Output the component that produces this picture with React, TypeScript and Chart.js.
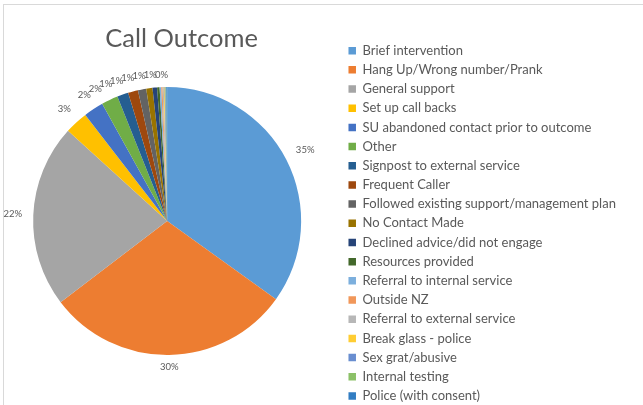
import React, { useEffect, useRef } from 'react';
import { Chart, registerables } from 'chart.js';

Chart.register(...registerables);

const TITLE = 'Call Outcome';

const categories = [
  'Brief intervention',
  'Hang Up/Wrong number/Prank',
  'General support',
  'Set up call backs',
  'SU abandoned contact prior to outcome',
  'Other',
  'Signpost to external service',
  'Frequent Caller',
  'Followed existing support/management plan',
  'No Contact Made',
  'Declined advice/did not engage',
  'Resources provided',
  'Referral to internal service',
  'Outside NZ',
  'Referral to external service',
  'Break glass - police',
  'Sex grat/abusive',
  'Internal testing',
  'Police (with consent)',
];

const values = [34.9, 29.7, 22.1, 2.8, 2.4, 2.0, 1.35, 1.2, 1.0, 0.75, 0.55, 0.3, 0.2, 0.15, 0.15, 0.1, 0.1, 0.1, 0.1];

const colors = [
  '#5B9BD5', '#ED7D31', '#A5A5A5', '#FFC000', '#4472C4', '#70AD47',
  '#255E91', '#9E480E', '#636363', '#997300', '#264478', '#43682B',
  '#7CAFDD', '#F1975A', '#B7B7B7', '#FFCD33', '#698ED0', '#8CC168', '#327DC2',
];

const FONT = 'Lato, "Liberation Sans", sans-serif';
const TEXT_COLOR = '#595959';
const LEGEND_FONT_SIZE = 13;
const LEGEND_BOX = 7.5;
const LEGEND_PAD = 6.18;
const SHIFT = 8; // canvas is placed this many px left of the page edge
const LEGEND_LEFT = 342.3 + SHIFT;
const CANVAS_W = 643 + SHIFT;
const CANVAS_H = 430;

const outsideLabels = {
  id: 'outsideLabels',
  afterDatasetsDraw(chart: any) {
    const meta = chart.getDatasetMeta(0);
    const data = chart.data.datasets[0].data as number[];
    const total = data.reduce((a: number, b: number) => a + b, 0);
    const ctx = chart.ctx as CanvasRenderingContext2D;
    const toDeg = (a: number) => ((a + Math.PI / 2) * 180) / Math.PI;
    const entries: { text: string; theta: number }[] = [];
    let zs: number | null = null;
    let ze = 0;
    meta.data.forEach((arc: any, i: number) => {
      const pct = Math.round((data[i] / total) * 100);
      if (pct === 0) {
        if (zs === null) zs = arc.startAngle;
        ze = arc.endAngle;
      } else {
        if (zs !== null) {
          entries.push({ text: '0%', theta: toDeg((zs + ze) / 2) });
          zs = null;
        }
        entries.push({ text: pct + '%', theta: toDeg((arc.startAngle + arc.endAngle) / 2) });
      }
    });
    if (zs !== null) entries.push({ text: '0%', theta: toDeg((zs + ze) / 2) });
    for (let i = entries.length - 2; i >= 0; i--) {
      if (entries[i].theta > 300 && entries[i + 1].theta > 300) {
        entries[i].theta = Math.min(entries[i].theta, entries[i + 1].theta - 4.4);
      }
    }
    const arc0 = meta.data[0];
    const cx = arc0.x;
    const cy = arc0.y;
    const R = arc0.outerRadius;
    ctx.save();
    ctx.font = `9.5px ${FONT}`;
    ctx.fillStyle = TEXT_COLOR;
    ctx.textAlign = 'center';
    ctx.textBaseline = 'middle';
    entries.forEach((e) => {
      const t = (e.theta * Math.PI) / 180;
      const s = Math.sin(t);
      const c = Math.cos(t);
      const w = ctx.measureText(e.text).width;
      const r = R + 7 + (w / 2 + 4) * Math.abs(s) + 5 * Math.abs(c);
      ctx.fillText(e.text, cx + r * s, cy - r * c);
    });
    ctx.restore();
  },
};

const titlePlugin = {
  id: 'sideTitle',
  afterDraw(chart: any) {
    const arc0 = chart.getDatasetMeta(0).data[0];
    const ctx = chart.ctx as CanvasRenderingContext2D;
    ctx.save();
    ctx.font = `25.5px ${FONT}`;
    ctx.fillStyle = TEXT_COLOR;
    ctx.textAlign = 'center';
    ctx.textBaseline = 'alphabetic';
    ctx.fillText(TITLE, arc0.x + 14.5, 47.3);
    ctx.restore();
  },
};

export default function App() {
  const ref = useRef<HTMLCanvasElement>(null);
  useEffect(() => {
    if (!ref.current) return;
    Chart.defaults.font.family = FONT;
    const mctx = document.createElement('canvas').getContext('2d') as CanvasRenderingContext2D;
    mctx.font = `${LEGEND_FONT_SIZE}px ${FONT}`;
    const maxText = Math.max(...categories.map((c) => mctx.measureText(c).width));
    const legendWidth = LEGEND_PAD + LEGEND_BOX + LEGEND_FONT_SIZE / 2 + maxText + 10;
    const padRight = CANVAS_W - LEGEND_LEFT - legendWidth;
    const chart = new Chart(ref.current, {
      type: 'pie',
      data: {
        labels: categories,
        datasets: [
          {
            data: values,
            backgroundColor: colors,
            borderWidth: 0,
            radius: 134,
          },
        ],
      },
      options: {
        responsive: false,
        animation: false,
        devicePixelRatio: 1,
        events: [],
        layout: { padding: { left: 0, right: padRight, top: 30, bottom: 18 } },
        plugins: {
          tooltip: { enabled: false },
          legend: {
            position: 'right',
            align: 'center',
            title: { display: true, text: ' ', font: { size: 1, lineHeight: 1 }, padding: { top: 3.6, bottom: 0 } },
            labels: {
              boxWidth: LEGEND_BOX,
              boxHeight: LEGEND_BOX,
              padding: LEGEND_PAD,
              color: TEXT_COLOR,
              font: { size: LEGEND_FONT_SIZE, family: FONT },
            },
          },
        },
      },
      plugins: [outsideLabels, titlePlugin],
    });
    return () => chart.destroy();
  }, []);
  return (
    <div style={{ position: 'fixed', left: 0, top: 0, width: 643, height: 405, overflow: 'hidden', background: '#fff' }}>
      <div style={{ position: 'absolute', left: 3, top: 4, width: 720, height: 500, border: '1px solid #d9d9d9' }} />
      <canvas ref={ref} width={CANVAS_W} height={CANVAS_H} style={{ position: 'absolute', left: -SHIFT, top: 0, width: CANVAS_W, height: CANVAS_H }} />
    </div>
  );
}
